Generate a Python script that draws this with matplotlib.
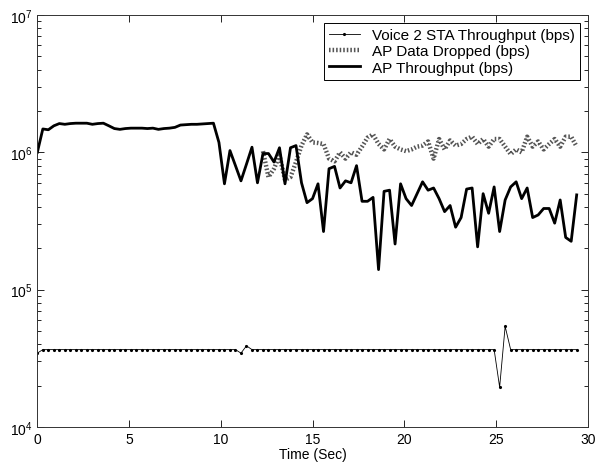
import numpy as np
import matplotlib
matplotlib.use("Agg")
import matplotlib.pyplot as plt
from matplotlib.ticker import LogLocator, NullFormatter, FixedLocator

plt.rcParams['font.family'] = ['Liberation Sans', 'DejaVu Sans']
plt.rcParams['mathtext.default'] = 'regular'

time_sec = [0.0, 0.3, 0.6, 0.9, 1.2, 1.5, 1.8, 2.1, 2.4, 2.7,
            3.0, 3.3, 3.6, 3.9, 4.2, 4.5, 4.8, 5.1, 5.4, 5.7,
            6.0, 6.3, 6.6, 6.9, 7.2, 7.5, 7.8, 8.1, 8.4, 8.7,
            9.0, 9.3, 9.6, 9.9, 10.2, 10.5, 10.8, 11.1, 11.4, 11.7,
            12.0, 12.3, 12.6, 12.9, 13.2, 13.5, 13.8, 14.1, 14.4, 14.7,
            15.0, 15.3, 15.6, 15.9, 16.2, 16.5, 16.8, 17.1, 17.4, 17.7,
            18.0, 18.3, 18.6, 18.9, 19.2, 19.5, 19.8, 20.1, 20.4, 20.7,
            21.0, 21.3, 21.6, 21.9, 22.2, 22.5, 22.8, 23.1, 23.4, 23.7,
            24.0, 24.3, 24.6, 24.9, 25.2, 25.5, 25.8, 26.1, 26.4, 26.7,
            27.0, 27.3, 27.6, 27.9, 28.2, 28.5, 28.8, 29.1, 29.4]

voice_bps = [34500] + [36600] * 36 + [34500, 39000] + [36600] * 45 + [19500, 54000] + [36600] * 13

ap_throughput_bps = [
    1.0e6, 1.48e6, 1.46e6, 1.56e6, 1.62e6, 1.60e6, 1.62e6, 1.63e6, 1.63e6, 1.63e6,
    1.60e6, 1.62e6, 1.63e6, 1.56e6, 1.49e6, 1.47e6, 1.49e6, 1.50e6, 1.50e6, 1.50e6,
    1.49e6, 1.50e6, 1.47e6, 1.49e6, 1.50e6, 1.52e6, 1.58e6, 1.59e6, 1.60e6, 1.60e6,
    1.61e6, 1.62e6, 1.63e6, 1.18e6, 5.9e5, 1.03e6, 8.0e5, 6.2e5, 8.2e5, 1.09e6,
    6.0e5, 9.8e5, 9.8e5, 8.5e5, 1.08e6, 5.9e5, 1.08e6, 1.12e6, 6.0e5, 4.3e5,
    4.6e5, 5.9e5, 2.65e5, 7.6e5, 7.9e5, 5.5e5, 6.2e5, 6.0e5, 8.0e5, 4.4e5,
    4.4e5, 4.7e5, 1.4e5, 5.2e5, 5.3e5, 2.15e5, 5.9e5, 4.6e5, 4.1e5, 5.0e5,
    6.1e5, 5.3e5, 5.5e5, 4.6e5, 3.7e5, 4.1e5, 2.85e5, 3.35e5, 5.4e5, 5.5e5,
    2.05e5, 5.0e5, 3.6e5, 5.6e5, 2.65e5, 4.5e5, 5.6e5, 6.1e5, 4.6e5, 5.5e5,
    3.35e5, 3.5e5, 3.9e5, 3.9e5, 3.05e5, 4.5e5, 2.4e5, 2.25e5, 4.9e5]

ap_dropped_bps = [np.nan] * 41 + [
    1.02e6, 6.6e5, 7.6e5, 9.5e5, 6.3e5, 6.6e5, 8.5e5, 1.12e6, 1.35e6,
    1.18e6, 1.17e6, 1.15e6, 9.0e5, 8.6e5, 1.0e6, 9.0e5, 1.0e6, 9.6e5, 1.1e6,
    1.28e6, 1.35e6, 1.15e6, 1.05e6, 1.25e6, 1.1e6, 1.05e6, 1.02e6, 1.05e6, 1.1e6,
    1.12e6, 1.2e6, 9.0e5, 1.25e6, 1.05e6, 1.22e6, 1.12e6, 1.15e6, 1.25e6, 1.3e6,
    1.15e6, 1.25e6, 1.1e6, 1.25e6, 1.25e6, 1.1e6, 9.7e5, 1.05e6, 1.0e6, 1.3e6,
    1.1e6, 1.2e6, 1.05e6, 1.15e6, 1.25e6, 1.1e6, 1.3e6, 1.3e6, 1.1e6]

legend_labels = ['Voice 2 STA Throughput (bps)', 'AP Data Dropped (bps)', 'AP Throughput (bps)']
x_ticks = [0, 5, 10, 15, 20, 25, 30]

fig = plt.figure(figsize=(6.05, 4.64), dpi=100)
ax = fig.add_axes([0.0617, 0.0776, 0.9097, 0.8879])

ax.plot(time_sec, voice_bps, color='black', lw=0.6, marker='.', ms=2.5,
        label=legend_labels[0])
ax.plot(time_sec, ap_dropped_bps, color='#555555', lw=3.2, linestyle=(0, (0.35, 0.45)),
        dash_capstyle='butt', label=legend_labels[1])
ax.plot(time_sec, ap_throughput_bps, color='black', lw=2.0, label=legend_labels[2])

ax.set_yscale('log')
ax.set_ylim(1e4, 1e7)
ax.set_xlim(0, 30)
ax.xaxis.set_major_locator(FixedLocator(x_ticks))
ax.yaxis.set_major_locator(LogLocator(base=10, numticks=10))
ax.yaxis.set_minor_locator(LogLocator(base=10, subs=np.arange(2, 10), numticks=20))
ax.yaxis.set_minor_formatter(NullFormatter())
ax.tick_params(which='both', direction='in', top=True, right=True, labelsize=10,
               colors='black', width=0.6)
ax.tick_params(which='major', length=5)
ax.tick_params(which='minor', length=3)
for s in ax.spines.values():
    s.set_linewidth(0.7)
    s.set_color('#333333')

ax.set_xlabel('Time (Sec)', fontsize=10, labelpad=1)

leg = ax.legend(loc='upper right', fontsize=11, frameon=True, fancybox=False,
                framealpha=1, edgecolor='black', borderpad=0.35, labelspacing=0.15,
                handlelength=2.0, borderaxespad=0.5)
leg.get_frame().set_linewidth(0.7)

fig.savefig('out.png', dpi=100)
